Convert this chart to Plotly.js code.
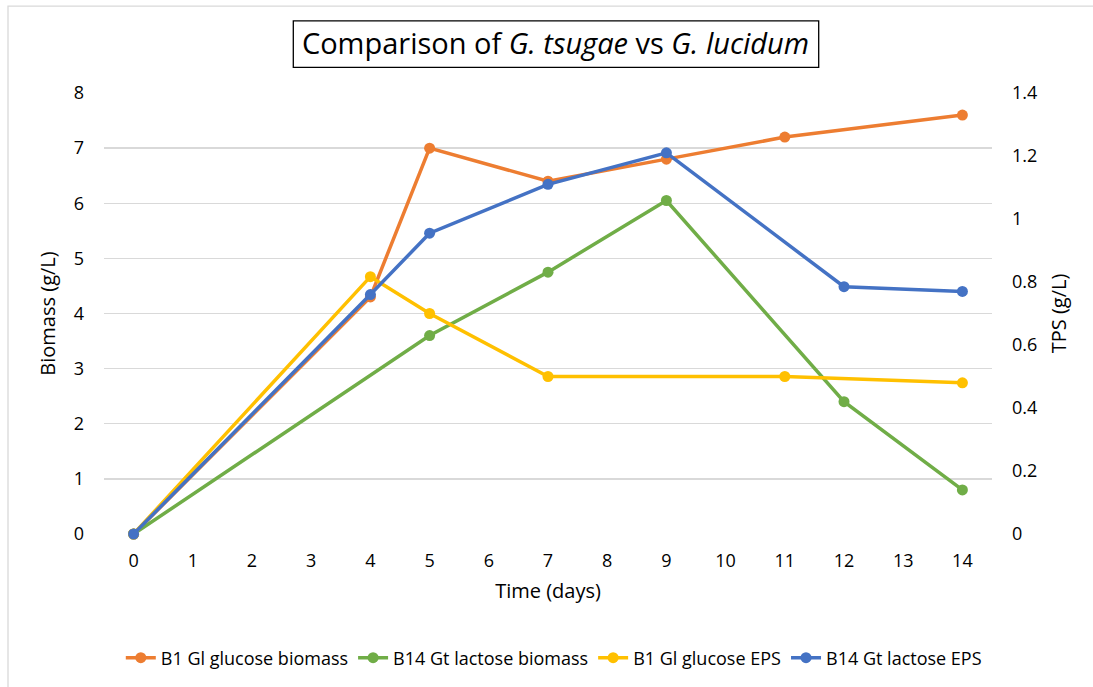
<!DOCTYPE html>
<html>
<head>
<meta charset="utf-8">
<script src="https://cdn.plot.ly/plotly-3.0.1.min.js"></script>
<style>html,body{margin:0;padding:0;background:#fff;}#chart{width:1093px;height:687px;}</style>
</head>
<body>
<div id="chart"></div>
<script>
// Data
const dayTicks = [0,1,2,3,4,5,6,7,8,9,10,11,12,13,14];

const glBiomassDays = [0,4,5,7,9,11,14];
const glBiomass     = [0,4.3,7.0,6.4,6.8,7.2,7.6];

const gtBiomassDays = [0,5,7,9,12,14];
const gtBiomass     = [0,3.6,4.75,6.05,2.4,0.8];

const glEpsDays = [0,4,5,7,11,14];
const glEps     = [0,0.817,0.70,0.50,0.50,0.48];

const gtEpsDays = [0,4,5,7,9,12,14];
const gtEps     = [0,0.76,0.955,1.11,1.21,0.785,0.77];

const seriesNames = ['B1 Gl glucose biomass','B14 Gt lactose biomass','B1 Gl glucose EPS','B14 Gt lactose EPS'];
const colors = ['#ED7D31','#70AD47','#FFC000','#4472C4'];

const FONT = '"Open Sans", "Noto Sans", sans-serif';

function tr(x, y, i, axis) {
  return {
    x: x, y: y, name: seriesNames[i], yaxis: axis,
    type: 'scatter', mode: 'lines+markers',
    line: {color: colors[i], width: 3.5},
    marker: {color: colors[i], size: 11},
    cliponaxis: false
  };
}

const data = [
  tr(glBiomassDays, glBiomass, 0, 'y'),
  tr(gtBiomassDays, gtBiomass, 1, 'y'),
  tr(glEpsDays, glEps, 2, 'y2'),
  tr(gtEpsDays, gtEps, 3, 'y2')
];

// paper coordinate helpers (plot area: x 104..992, y 93..535)
const px = v => (v - 104) / 888;
const py = v => (535 - v) / 442;

const layout = {
  width: 1093, height: 687,
  margin: {l: 104, r: 101, t: 93, b: 152, pad: 0},
  paper_bgcolor: '#fff', plot_bgcolor: '#fff',
  font: {family: FONT, size: 18, color: '#000'},
  showlegend: true,
  title: {
    text: 'Comparison of <i>G. tsugae</i> vs <i>G. lucidum</i>',
    font: {family: FONT, size: 29, color: '#000'},
    xref: 'container', yref: 'container',
    x: 555.5/1093, xanchor: 'center',
    y: 1 - 44/687, yanchor: 'middle'
  },
  xaxis: {
    range: [-0.5, 14.5],
    tickmode: 'array', tickvals: dayTicks, ticktext: dayTicks.map(String),
    showgrid: false, zeroline: false, showline: false, ticks: '',
    ticklabelstandoff: 14,
    tickfont: {size: 18},
    automargin: false,
    title: {text: 'Time (days)', font: {size: 20}, standoff: 12}
  },
  yaxis: {
    range: [0, 8], dtick: 1, tick0: 0,
    showgrid: true, gridcolor: '#d9d9d9', gridwidth: 1.3,
    zeroline: false, showline: false, ticks: '',
    ticklabelstandoff: 19,
    tickfont: {size: 18},
    automargin: false,
    title: {text: 'Biomass (g/L)', font: {size: 20}, standoff: 12}
  },
  yaxis2: {
    overlaying: 'y', side: 'right',
    range: [0, 1.4], dtick: 0.2, tick0: 0,
    showgrid: false, zeroline: false, showline: false, ticks: '',
    ticklabelstandoff: 19,
    tickfont: {size: 18},
    automargin: false,
    title: {text: 'TPS (g/L)', font: {size: 20}, standoff: 15}
  },
  legend: {
    orientation: 'h',
    x: px(553.8), xanchor: 'center',
    y: py(658), yanchor: 'middle',
    font: {size: 18},
    bgcolor: 'rgba(0,0,0,0)',
    traceorder: 'normal'
  },
  shapes: [
    {type: 'rect', xref: 'paper', yref: 'paper',
     x0: px(8), x1: px(1110), y0: py(710), y1: py(6),
     line: {color: '#d9d9d9', width: 1.3}, fillcolor: 'rgba(0,0,0,0)', layer: 'below'},
    {type: 'rect', xref: 'paper', yref: 'paper',
     x0: px(293.3), x1: px(818.7), y0: py(67.3), y1: py(20.7),
     line: {color: '#000', width: 1.3}, fillcolor: 'rgba(0,0,0,0)'}
  ]
};

Plotly.newPlot('chart', data, layout, {displayModeBar: false, staticPlot: true});
</script>
</body>
</html>
